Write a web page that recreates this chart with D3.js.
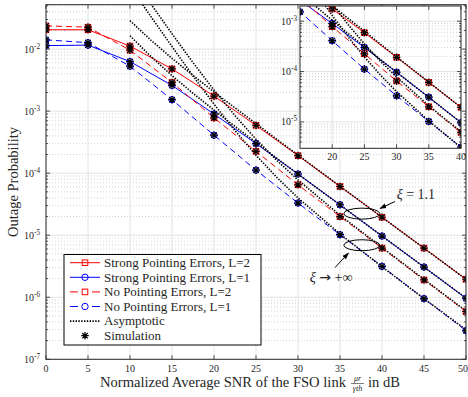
<!DOCTYPE html>
<html>
<head>
<meta charset="utf-8">
<script src="https://cdn.jsdelivr.net/npm/d3@7"></script>
<style>
  body { margin: 0; background: #fff; }
  text { font-family: "Liberation Serif", "DejaVu Serif", serif; fill: #262626; }
</style>
</head>
<body>
<svg id="chart" width="468" height="397"></svg>
<script>
// values
var snr = [0, 5, 10, 15, 20, 25, 30, 35, 40, 45, 50];
var strongL2 = [2.05e-2, 2.05e-2, 1.12e-2, 4.8e-3, 1.75e-3, 5.9e-4, 1.92e-4, 6.1e-5, 1.95e-5, 6.2e-6, 1.95e-6];
var strongL1 = [1.14e-2, 1.16e-2, 6.3e-3, 2.6e-3, 9.0e-4, 3.0e-4, 9.7e-5, 3.1e-5, 9.7e-6, 3.07e-6, 9.6e-7];
var noPeL2   = [2.37e-2, 2.26e-2, 9.6e-3, 2.9e-3, 7.8e-4, 2.25e-4, 6.5e-5, 2.0e-5, 6.2e-6, 1.9e-6, 5.9e-7];
var noPeL1   = [1.41e-2, 1.27e-2, 5.3e-3, 1.53e-3, 4.1e-4, 1.12e-4, 3.3e-5, 1.02e-5, 3.15e-6, 9.5e-7, 2.9e-7];

var asymSnr      = [10, 12.5, 15, 17.5, 20, 22.5, 25, 27.5, 30, 35, 40, 45, 50];
var asymStrongL2 = [0.0288, 0.0139, 7.1e-3, 3.76e-3, 2.04e-3, 1.13e-3, 6.3e-4, 3.5e-4, 1.96e-4, 6.17e-5, 1.95e-5, 6.17e-6, 1.95e-6];
var asymStrongL1 = [0.0164, 7.57e-3, 3.74e-3, 1.94e-3, 1.04e-3, 5.66e-4, 3.14e-4, 1.73e-4, 9.7e-5, 3.07e-5, 9.7e-6, 3.07e-6, 9.7e-7];
var asymNoPeL2   = [0.163, 0.0532, 0.0177, 6.07e-3, 2.19e-3, 8.46e-4, 3.53e-4, 1.6e-4, 7.8e-5, 2.1e-5, 6.36e-6, 1.95e-6, 6.0e-7];
var asymNoPeL1   = [0.103, 0.0333, 0.011, 3.69e-3, 1.3e-3, 4.85e-4, 1.95e-4, 8.5e-5, 4.0e-5, 1.05e-5, 3.1e-6, 9.5e-7, 3.0e-7];

var xTicks = [0, 5, 10, 15, 20, 25, 30, 35, 40, 45, 50];
var yExponents = [-7, -6, -5, -4, -3, -2];
var insetXTicks = [20, 25, 30, 35, 40];
var insetYExponents = [-5, -4, -3];

var legendLabels = ["Strong Pointing Errors, L=2", "Strong Pointing Errors, L=1",
                    "No Pointing Errors, L=2", "No Pointing Errors, L=1",
                    "Asymptotic", "Simulation"];

var RED = "#ff0000", BLUE = "#0000ff";

var series = [
  {vals: strongL2, asym: asymStrongL2, color: RED,  dash: null,  marker: "square"},
  {vals: strongL1, asym: asymStrongL1, color: BLUE, dash: null,  marker: "circle"},
  {vals: noPeL2,   asym: asymNoPeL2,   color: RED,  dash: "6,4", marker: "square"},
  {vals: noPeL1,   asym: asymNoPeL1,   color: BLUE, dash: "6,4", marker: "circle"}
];

var svg = d3.select("#chart");

var x = d3.scaleLinear().domain([0, 50]).range([46, 466]);
var y = d3.scaleLog().domain([1e-7, 0.052]).range([359.3, 4.7]);

var xi = d3.scaleLinear().domain([15, 40]).range([300, 461]);
var yi = d3.scaleLog().domain([3e-6, 2e-3]).range([148.3, 6]);

function minorValues(scale){
  var d = scale.domain(), out = [];
  for (var e = -8; e <= 0; e++){
    for (var m = 2; m <= 9; m++){
      var v = m * Math.pow(10, e);
      if (v > d[0] && v < d[1]) out.push(v);
    }
  }
  return out;
}

function drawMarker(g, kind, cx, cy, color){
  if (kind == "square"){
    g.append("rect").attr("x", cx - 2.8).attr("y", cy - 2.8)
      .attr("width", 5.6).attr("height", 5.6)
      .attr("fill", "none").attr("stroke", color).attr("stroke-width", 1);
  } else {
    g.append("circle").attr("cx", cx).attr("cy", cy).attr("r", 3.2)
      .attr("fill", "none").attr("stroke", color).attr("stroke-width", 1);
  }
}

function drawStar(g, cx, cy){
  var r = 3.8, d = r * 0.72;
  var p = "M" + (cx - r) + "," + cy + "L" + (cx + r) + "," + cy +
          "M" + cx + "," + (cy - r) + "L" + cx + "," + (cy + r) +
          "M" + (cx - d) + "," + (cy - d) + "L" + (cx + d) + "," + (cy + d) +
          "M" + (cx - d) + "," + (cy + d) + "L" + (cx + d) + "," + (cy - d);
  g.append("path").attr("d", p).attr("stroke", "#000").attr("stroke-width", 1.2).attr("fill", "none");
}

function drawPanel(xs, ys, ticksX, clipId){
  var r = xs.range(), rb = ys.range();
  var x0 = r[0], x1 = r[1], yb = rb[0], yt = rb[1];

  svg.append("clipPath").attr("id", clipId)
    .append("rect").attr("x", x0).attr("y", yt).attr("width", x1 - x0).attr("height", yb - yt);

  var panel = svg.append("g");
  panel.append("rect").attr("x", x0).attr("y", yt).attr("width", x1 - x0).attr("height", yb - yt)
    .attr("fill", "#fff");

  var grid = panel.append("g").attr("clip-path", "url(#" + clipId + ")");
  // minor horizontal grid
  grid.selectAll(".minor").data(minorValues(ys)).enter().append("line")
    .attr("x1", x0).attr("x2", x1)
    .attr("y1", function(d){ return ys(d); }).attr("y2", function(d){ return ys(d); })
    .attr("stroke", "#c8c8c8").attr("stroke-width", 0.8).attr("stroke-dasharray", "1,2");
  // major grid
  var decs = ys.ticks().filter(function(v){ return Math.abs(Math.log10(v) - Math.round(Math.log10(v))) < 1e-9; });
  grid.selectAll(".majorY").data(decs).enter().append("line")
    .attr("x1", x0).attr("x2", x1)
    .attr("y1", function(d){ return ys(d); }).attr("y2", function(d){ return ys(d); })
    .attr("stroke", "#e3e3e3").attr("stroke-width", 1);
  grid.selectAll(".majorX").data(ticksX).enter().append("line")
    .attr("y1", yt).attr("y2", yb)
    .attr("x1", function(d){ return xs(d); }).attr("x2", function(d){ return xs(d); })
    .attr("stroke", "#e3e3e3").attr("stroke-width", 1);

  var plot = panel.append("g").attr("clip-path", "url(#" + clipId + ")");

  var line = d3.line().x(function(d){ return xs(d[0]); }).y(function(d){ return ys(d[1]); });

  series.forEach(function(s){
    plot.append("path").datum(d3.zip(snr, s.vals))
      .attr("d", line).attr("fill", "none")
      .attr("stroke", s.color).attr("stroke-width", 1)
      .attr("stroke-dasharray", s.dash);
  });
  series.forEach(function(s){
    plot.append("path").datum(d3.zip(asymSnr, s.asym))
      .attr("d", line).attr("fill", "none")
      .attr("stroke", "#000").attr("stroke-width", 1.6)
      .attr("stroke-dasharray", "1.4,1.4");
  });
  series.forEach(function(s){
    snr.forEach(function(v, i){
      drawMarker(plot, s.marker, xs(v), ys(s.vals[i]), s.color);
    });
  });
  // simulation points
  series.forEach(function(s){
    snr.forEach(function(v, i){
      drawStar(plot, xs(v), ys(s.vals[i]));
    });
  });

  // ticks (inward, all four sides)
  var tk = panel.append("g").attr("stroke", "#262626").attr("stroke-width", 0.8);
  ticksX.forEach(function(t){
    tk.append("line").attr("x1", xs(t)).attr("x2", xs(t)).attr("y1", yb).attr("y2", yb - 4);
    tk.append("line").attr("x1", xs(t)).attr("x2", xs(t)).attr("y1", yt).attr("y2", yt + 4);
  });
  decs.forEach(function(t){
    tk.append("line").attr("x1", x0).attr("x2", x0 + 4).attr("y1", ys(t)).attr("y2", ys(t));
    tk.append("line").attr("x1", x1).attr("x2", x1 - 4).attr("y1", ys(t)).attr("y2", ys(t));
  });
  minorValues(ys).forEach(function(t){
    tk.append("line").attr("x1", x0).attr("x2", x0 + 2).attr("y1", ys(t)).attr("y2", ys(t));
    tk.append("line").attr("x1", x1).attr("x2", x1 - 2).attr("y1", ys(t)).attr("y2", ys(t));
  });

  panel.append("rect").attr("x", x0).attr("y", yt).attr("width", x1 - x0).attr("height", yb - yt)
    .attr("fill", "none").attr("stroke", "#262626").attr("stroke-width", 1);

  return panel;
}

function powLabel(g, xpos, ypos, exp, size){
  var t = g.append("text").attr("x", xpos).attr("y", ypos)
    .attr("text-anchor", "end").style("font-size", size + "px");
  t.append("tspan").text("10");
  t.append("tspan").attr("dy", -size * 0.4).style("font-size", (size * 0.72) + "px").text(String(exp));
}

// ---- main panel
var main = drawPanel(x, y, xTicks, "clipMain");

main.selectAll(".xlab").data(xTicks).enter().append("text")
  .attr("x", function(d){ return d == 50 ? 468 : x(d); }).attr("y", 372)
  .attr("text-anchor", function(d){ return d == 50 ? "end" : "middle"; })
  .style("font-size", "10px")
  .text(function(d){ return d; });

yExponents.forEach(function(e){
  powLabel(main, 40, y(Math.pow(10, e)) + 3.5, e, 10);
});

// axis titles
svg.append("text")
  .attr("transform", "translate(18," + ((y.range()[0] + y.range()[1]) / 2) + ") rotate(-90)")
  .attr("text-anchor", "middle").style("font-size", "14.5px")
  .text("Outage Probability");

svg.append("text").attr("x", 100).attr("y", 386.5).style("font-size", "14.5px")
  .attr("textLength", 246).attr("lengthAdjust", "spacingAndGlyphs")
  .text("Normalized Average SNR of the FSO link");
svg.append("text").attr("x", 357.5).attr("y", 381).attr("text-anchor", "middle")
  .style("font-size", "8px").style("font-style", "italic").text("\u03BCr");
svg.append("line").attr("x1", 351).attr("x2", 364).attr("y1", 383.5).attr("y2", 383.5)
  .attr("stroke", "#262626").attr("stroke-width", 0.6);
svg.append("text").attr("x", 357.5).attr("y", 391).attr("text-anchor", "middle")
  .style("font-size", "8px").style("font-style", "italic").text("\u03B3th");
svg.append("text").attr("x", 368).attr("y", 386.5).style("font-size", "14.5px").text("in dB");

// annotations
var ann = svg.append("g");
[[37.6, 2.23e-5], [37.6, 6.9e-6]].forEach(function(p){
  ann.append("ellipse").attr("cx", x(p[0])).attr("cy", y(p[1]))
    .attr("rx", 18).attr("ry", 5.5)
    .attr("fill", "none").attr("stroke", "#000").attr("stroke-width", 1);
});
svg.append("defs").append("marker").attr("id", "arrow")
  .attr("viewBox", "0 0 10 10").attr("refX", 9).attr("refY", 5)
  .attr("markerWidth", 7).attr("markerHeight", 7).attr("orient", "auto-start-reverse")
  .append("path").attr("d", "M0,1.5L10,5L0,8.5Z").attr("fill", "#000");
ann.append("line").attr("x1", 395).attr("y1", 201.5).attr("x2", 380).attr("y2", 208.5)
  .attr("stroke", "#000").attr("stroke-width", 1).attr("marker-end", "url(#arrow)");
ann.append("line").attr("x1", 335).attr("y1", 267.5).attr("x2", 348.5).attr("y2", 253)
  .attr("stroke", "#000").attr("stroke-width", 1).attr("marker-end", "url(#arrow)");
ann.append("text").attr("x", x(41.75)).attr("y", 199).style("font-size", "14px")
  .html("<tspan font-style='italic'>\u03BE</tspan> = 1.1");
ann.append("text").attr("x", x(31.4)).attr("y", 282).style("font-size", "14px")
  .html("<tspan font-style='italic'>\u03BE</tspan> <tspan style='font-family:DejaVu Sans'>\u2192</tspan> +\u221E");

// ---- legend
var lg = svg.append("g");
lg.append("rect").attr("x", 64).attr("y", 254.5).attr("width", 197).attr("height", 90.5)
  .attr("fill", "#fff").attr("stroke", "#000").attr("stroke-width", 1);
legendLabels.forEach(function(lab, i){
  var ly = 262.7 + i * 14.6;
  if (i < 4){
    var s = series[i];
    lg.append("line").attr("x1", 70).attr("x2", 100).attr("y1", ly).attr("y2", ly)
      .attr("stroke", s.color).attr("stroke-width", 1)
      .attr("stroke-dasharray", s.dash ? "8,14" : null);
    drawMarker(lg, s.marker, 85, ly, s.color);
  } else if (i == 4){
    lg.append("line").attr("x1", 70).attr("x2", 100).attr("y1", ly).attr("y2", ly)
      .attr("stroke", "#000").attr("stroke-width", 1.6).attr("stroke-dasharray", "1.4,1.4");
  } else {
    drawStar(lg, 85, ly);
  }
  lg.append("text").attr("x", 104).attr("y", ly + 4.2).style("font-size", "13px").text(lab);
});

// ---- inset
var inset = drawPanel(xi, yi, insetXTicks, "clipInset");
inset.selectAll(".xlab").data(insetXTicks).enter().append("text")
  .attr("x", function(d){ return xi(d); }).attr("y", 160)
  .attr("text-anchor", "middle").style("font-size", "10px")
  .text(function(d){ return d; });
insetYExponents.forEach(function(e){
  powLabel(inset, 297, yi(Math.pow(10, e)) + 3.5, e, 10);
});
</script>
</body>
</html>
